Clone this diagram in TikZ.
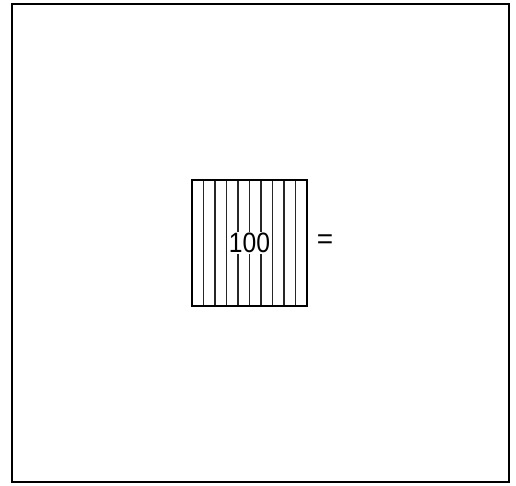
\documentclass[tikz,border=0pt]{standalone}
\usepackage{fontspec}
\setmainfont{Liberation Sans}
\begin{document}
\begin{tikzpicture}[x=1pt,y=-1pt,
  frame/.style={draw=black,line width=2pt},
  sqborder/.style={draw=black,line width=2.4pt},
  colline/.style={draw=black!85,line width=1.5pt},
  numlabel/.style={fill=white,inner sep=1.5pt,font=\fontsize{28}{30}\selectfont},
  eqlabel/.style={inner sep=0pt,font=\fontsize{28}{30}\selectfont}]
\useasboundingbox (0,0) rectangle (516,485);
\fill[white] (0,0) rectangle (516,485);
\draw[frame] (12,4) rectangle (509,482);
\coordinate (sqA) at (192,180);
\coordinate (sqB) at (307,306);
\foreach \k in {1,...,9} {
  \draw[colline] (192+11.5*\k,180) -- (192+11.5*\k,306);
}
\draw[sqborder] (sqA) rectangle (sqB);
\node[numlabel] (num) at (249.5,243) {\scalebox{0.88}[1]{100}};
\node[eqlabel] (eq) at (325,242) {=};
\end{tikzpicture}
\end{document}
